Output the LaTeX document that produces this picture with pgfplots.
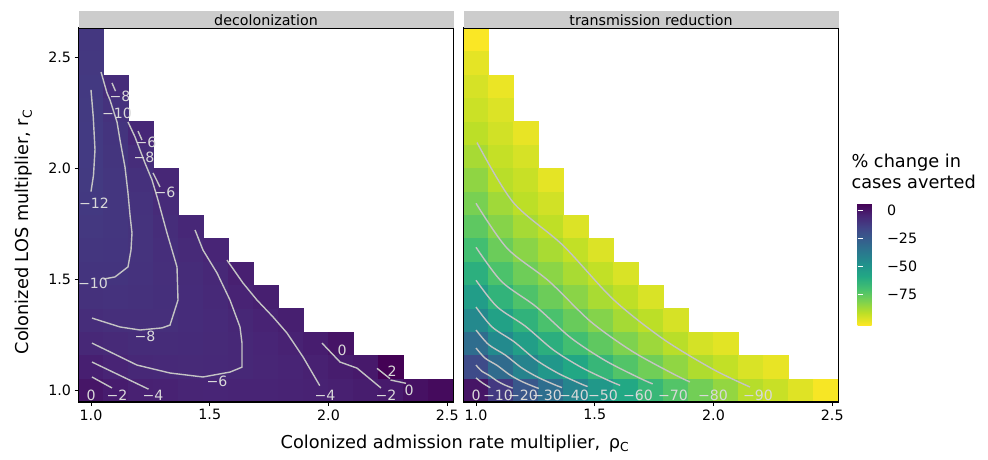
\documentclass[border=0pt]{standalone}
\usepackage{fontspec}
\setmainfont{DejaVu Sans}
\usepackage{pgfplots}
\pgfplotsset{compat=1.18}
\usepackage{pgfplotstable}

\newcommand\ticfont{\fontsize{14.3}{17}\selectfont}
\newcommand\titfont{\fontsize{17.8}{21}\selectfont}
\newcommand\clabfont{\fontsize{14.2}{17}\selectfont}

% one heatmap cell = 25bp x 23.375bp
\pgfdeclareplotmark{cell}{%
  \pgfpathrectangle{\pgfpoint{-12.65bp}{-11.8bp}}{\pgfpoint{25.3bp}{23.6bp}}%
  \pgfusepath{fill}}

\definecolor{stripgray}{RGB}{204,204,204}
\definecolor{linegray}{RGB}{196,196,196}
\tikzset{clab/.style={text=gray!30, font=\clabfont, inner sep=0pt}}

\pgfplotsset{
  colormap={rviridis}{rgb255=(253,231,37) rgb255=(189,223,38) rgb255=(122,209,81)
    rgb255=(68,191,112) rgb255=(34,168,132) rgb255=(33,145,140) rgb255=(42,120,142)
    rgb255=(53,95,141) rgb255=(65,68,135) rgb255=(72,36,117) rgb255=(68,1,84)},
  panelstyle/.style={
    scale only axis, width=375bp, height=374bp,
    xmin=-0.5, xmax=14.5, ymin=-0.5, ymax=15.5,
    axis on top, clip marker paths=true,
    axis line style={black, line width=1.1bp},
    tick style={black, line width=0.9bp},
    tick align=outside, major tick length=4bp,
    xtick pos=left, ytick pos=left,
    xtick={0,4.75,9.5,14.25}, xticklabels={1.0,1.5,2.0,2.5},
    ytick={0,4.75,9.5,14.25},
    ticklabel style={font=\ticfont},
    point meta min=-102, point meta max=6,
  },
  heatcells/.style={scatter, only marks, mark=cell,
    scatter/use mapped color={draw=none, fill=mapped color}, point meta=explicit},
  cline/.style={draw=linegray, line width=1.4bp, mark=none},
}

% decolonization: x index, y index, % change
\pgfplotstableread{
x y v
0 0 -0.3
0 1 -3.3
0 2 -6.0
0 3 -7.8
0 4 -9.1
0 5 -10.2
0 6 -10.9
0 7 -11.5
0 8 -11.9
0 9 -12.2
0 10 -12.3
0 11 -12.3
0 12 -12.2
0 13 -11.95
0 14 -11.6
0 15 -11.3
1 0 -2.3
1 1 -4.7
1 2 -6.8
1 3 -8.5
1 4 -9.6
1 5 -10.2
1 6 -10.5
1 7 -10.7
1 8 -10.8
1 9 -10.7
1 10 -10.4
1 11 -10.2
1 12 -9.6
1 13 -7.6
2 0 -3.9
2 1 -6.2
2 2 -7.4
2 3 -8.5
2 4 -9.2
2 5 -9.6
2 6 -9.7
2 7 -9.7
2 8 -9.5
2 9 -8.9
2 10 -7.8
2 11 -5.8
3 0 -4.2
3 1 -6.6
3 2 -7.3
3 3 -8.3
3 4 -8.6
3 5 -8.5
3 6 -8.1
3 7 -7.9
3 8 -7.0
3 9 -5.6
4 0 -5.0
4 1 -6.7
4 2 -7.2
4 3 -7.5
4 4 -7.5
4 5 -7.3
4 6 -6.8
4 7 -5.9
5 0 -5.1
5 1 -6.5
5 2 -6.8
5 3 -6.9
5 4 -6.6
5 5 -6.0
5 6 -5.1
6 0 -4.9
6 1 -6.0
6 2 -6.0
6 3 -5.6
6 4 -4.5
6 5 -3.5
7 0 -4.6
7 1 -5.3
7 2 -5.2
7 3 -4.3
7 4 -3.2
8 0 -4.3
8 1 -4.6
8 2 -4.1
8 3 -3.2
9 0 -4.15
9 1 -3.8
9 2 -2.7
10 0 -3.6
10 1 -2.5
10 2 0.3
11 0 -2.6
11 1 -1.5
12 0 -1.7
12 1 5.8
13 0 1.0
14 0 3.0
}\decol

% transmission reduction
\pgfplotstableread{
x y v
0 0 0.0
0 1 -18.5
0 2 -32.5
0 3 -44.3
0 4 -53.8
0 5 -62.1
0 6 -69.1
0 7 -74.7
0 8 -80.0
0 9 -83.8
0 10 -87.7
0 11 -91.0
0 12 -93.5
0 13 -95.5
0 14 -98.0
0 15 -101.5
1 0 -12.0
1 1 -31.5
1 2 -45.0
1 3 -55.5
1 4 -64.0
1 5 -71.2
1 6 -77.3
1 7 -82.3
1 8 -86.5
1 9 -90.5
1 10 -92.5
1 11 -94.5
1 12 -96.5
1 13 -99.0
2 0 -23.0
2 1 -42.0
2 2 -54.2
2 3 -63.6
2 4 -71.5
2 5 -78.0
2 6 -83.0
2 7 -87.5
2 8 -91.0
2 9 -93.0
2 10 -95.5
2 11 -98.5
3 0 -33.0
3 1 -51.0
3 2 -61.8
3 3 -70.7
3 4 -77.5
3 5 -83.1
3 6 -88.0
3 7 -91.5
3 8 -94.5
3 9 -98.0
4 0 -42.7
4 1 -58.5
4 2 -69.0
4 3 -76.8
4 4 -83.0
4 5 -88.0
4 6 -92.0
4 7 -96.5
5 0 -51.4
5 1 -65.5
5 2 -75.0
5 3 -82.0
5 4 -88.0
5 5 -92.0
5 6 -96.5
6 0 -58.6
6 1 -72.3
6 2 -81.0
6 3 -87.3
6 4 -91.5
6 5 -96.0
7 0 -65.7
7 1 -78.3
7 2 -86.0
7 3 -91.0
7 4 -96.0
8 0 -72.5
8 1 -84.0
8 2 -90.5
8 3 -95.5
9 0 -78.8
9 1 -89.0
9 2 -95.0
10 0 -84.4
10 1 -92.0
10 2 -97.5
11 0 -90.0
11 1 -96.0
12 0 -93.0
12 1 -98.5
13 0 -97.0
14 0 -101.0
}\trans

\begin{document}
\begin{tikzpicture}
\useasboundingbox (0,0) rectangle (988bp,460bp);

\begin{axis}[panelstyle, name=L, at={(78.5bp,58bp)}, anchor=south west,
  yticklabels={1.0,1.5,2.0,2.5}]
\addplot[heatcells] table[x=x, y=y, meta=v] {\decol};
\addplot[cline] coordinates {(0.0,12.85) (0.09,11.7) (0.16,10.3) (0.1,9.2) (0.0,8.5)};
\addplot[cline] coordinates {(0.4,13.62) (0.64,12.72) (0.76,12.42) (1.04,11.48) (1.16,10.71) (1.36,9.55) (1.48,8.44) (1.56,7.5) (1.64,6.73) (1.6,6.0) (1.48,5.28) (0.96,4.85) (0.5,4.76)};
\addplot[cline] coordinates {(0.84,13.15) (0.98,12.8)};
\addplot[cline] coordinates {(1.48,11.48) (1.76,10.84) (2.16,9.72) (2.44,9.0) (2.68,8.14) (3.04,6.73) (3.44,5.28) (3.48,3.86) (3.16,2.79) (2.84,2.67) (1.96,2.58) (1.16,2.71) (0.04,3.09)};
\addplot[cline] coordinates {(1.88,11.09) (2.04,10.71)};
\addplot[cline] coordinates {(2.48,9.3) (2.76,8.7)};
\addplot[cline] coordinates {(4.16,6.86) (4.48,6.0) (5.04,5.02) (5.56,3.86) (5.96,2.71) (6.04,2.02) (6.04,0.99) (5.56,0.78) (4.48,0.57) (3.16,0.74) (1.84,1.08) (0.04,2.02)};
\addplot[cline] coordinates {(5.44,5.57) (6.08,4.59) (6.64,3.86) (7.28,3.14) (7.84,2.45) (8.48,1.43) (9.15,0.2)};
\addplot[cline] coordinates {(0.04,1.21) (2.3,0.05)};
\addplot[cline] coordinates {(0.04,0.57) (0.84,0.1)};
\addplot[cline] coordinates {(9.24,2.02) (9.96,1.21) (10.64,0.95) (11.6,0.1)};
\addplot[cline] coordinates {(11.44,0.94) (11.96,0.5)};
\addplot[cline] coordinates {(11.98,0.44) (12.6,0.3)};
\node[clab] at (axis cs:0.12,8.0) {−12};
\node[clab] at (axis cs:1.04,11.86) {−10};
\node[clab] at (axis cs:0.08,4.59) {−10};
\node[clab] at (axis cs:1.16,12.59) {−8};
\node[clab] at (axis cs:2.12,9.98) {−8};
\node[clab] at (axis cs:2.16,2.32) {−8};
\node[clab] at (axis cs:2.2,10.62) {−6};
\node[clab] at (axis cs:2.96,8.48) {−6};
\node[clab] at (axis cs:5.04,0.4) {−6};
\node[clab] at (axis cs:9.36,-0.2) {−4};
\node[clab] at (axis cs:2.48,-0.22) {−4};
\node[clab] at (axis cs:1.04,-0.22) {−2};
\node[clab] at (axis cs:0,-0.2) {0};
\node[clab] at (axis cs:11.8,-0.22) {−2};
\node[clab] at (axis cs:10.04,1.72) {0};
\node[clab] at (axis cs:12.04,0.8) {2};
\node[clab] at (axis cs:12.72,0.0) {0};
\end{axis}

\begin{axis}[panelstyle, name=R, at={(463.5bp,58bp)}, anchor=south west,
  ytick=\empty,
  colorbar,
  colorbar style={at={(parent axis.north east)}, anchor=north west,
    xshift=10.5bp, yshift=-175.3bp,
    scale only axis, width=24bp, height=121.8bp,
    axis line style={draw=none},
    ytick={-75,-50,-25,0}, yticklabels={−75,−50,−25,0},
    tick align=inside, major tick length=5bp,
    tick style={white, line width=0.9bp},
    ytick pos=both, yticklabel pos=right,
    yticklabel style={font=\ticfont, xshift=2bp}}]
\addplot[heatcells] table[x=x, y=y, meta=v] {\trans};
\addplot[cline, smooth] coordinates {(0,0.53) (0.265,0.31) (0.571,0.11)};
\addplot[cline, smooth] coordinates {(0,1.08) (0.23,0.82) (0.537,0.632) (0.847,0.397) (1.156,0.225) (1.465,0.092)};
\addplot[cline, smooth] coordinates {(0,1.81) (0.365,1.376) (0.853,1.059) (1.345,0.666) (1.836,0.376) (2.327,0.154) (2.511,0.081)};
\addplot[cline, smooth] coordinates {(0,2.58) (0.5,1.961) (1.169,1.509) (1.843,0.949) (2.516,0.537) (3.189,0.219) (3.441,0.116)};
\addplot[cline, smooth] coordinates {(0,3.56) (0.648,2.706) (1.517,2.083) (2.39,1.31) (3.264,0.74) (4.138,0.303) (4.464,0.16)};
\addplot[cline, smooth] coordinates {(0,4.71) (0.837,3.58) (1.959,2.755) (3.088,1.733) (4.216,0.98) (5.344,0.4) (5.766,0.212)};
\addplot[cline, smooth] coordinates {(0,6.12) (1.026,4.651) (2.402,3.58) (3.785,2.252) (5.168,1.273) (6.551,0.52) (7.068,0.275)};
\addplot[cline, smooth] coordinates {(0,8) (1.242,6.08) (2.907,4.68) (4.582,2.944) (6.256,1.664) (7.93,0.68) (8.556,0.36)};
\addplot[cline, smooth] coordinates {(0.04,10.6) (1.48,8.05) (3.48,6.2) (5.48,3.9) (7.48,2.2) (9.48,0.9) (10.96,0.14)};
\node[clab] at (axis cs:0,-0.2) {0};
\node[clab] at (axis cs:0.88,-0.2) {−10};
\node[clab] at (axis cs:1.88,-0.2) {−20};
\node[clab] at (axis cs:2.84,-0.2) {−30};
\node[clab] at (axis cs:3.92,-0.2) {−40};
\node[clab] at (axis cs:5.08,-0.2) {−50};
\node[clab] at (axis cs:6.48,-0.2) {−60};
\node[clab] at (axis cs:7.88,-0.2) {−70};
\node[clab] at (axis cs:9.48,-0.2) {−80};
\node[clab] at (axis cs:11.28,-0.2) {−90};
\end{axis}

% facet strips
\fill[stripgray] (L.north west) rectangle ([yshift=16.5bp]L.north east);
\fill[stripgray] (R.north west) rectangle ([yshift=16.5bp]R.north east);
\node[anchor=base, font=\ticfont] at ([yshift=2.5bp]L.north) {decolonization};
\node[anchor=base, font=\ticfont] at ([yshift=2.5bp]R.north) {transmission reduction};

% axis titles
\node[anchor=base, font=\titfont] at (455bp,11.5bp) {Colonized admission rate multiplier,\, ρ\textsubscript{C}};
\node[anchor=base, rotate=90, font=\titfont] at (28.5bp,228bp) {Colonized LOS multiplier, r\textsubscript{C}};

% legend title
\node[anchor=base west, font=\titfont] at (848bp,292bp) {\% change in};
\node[anchor=base west, font=\titfont] at (848bp,271bp) {cases averted};
\end{tikzpicture}
\end{document}
